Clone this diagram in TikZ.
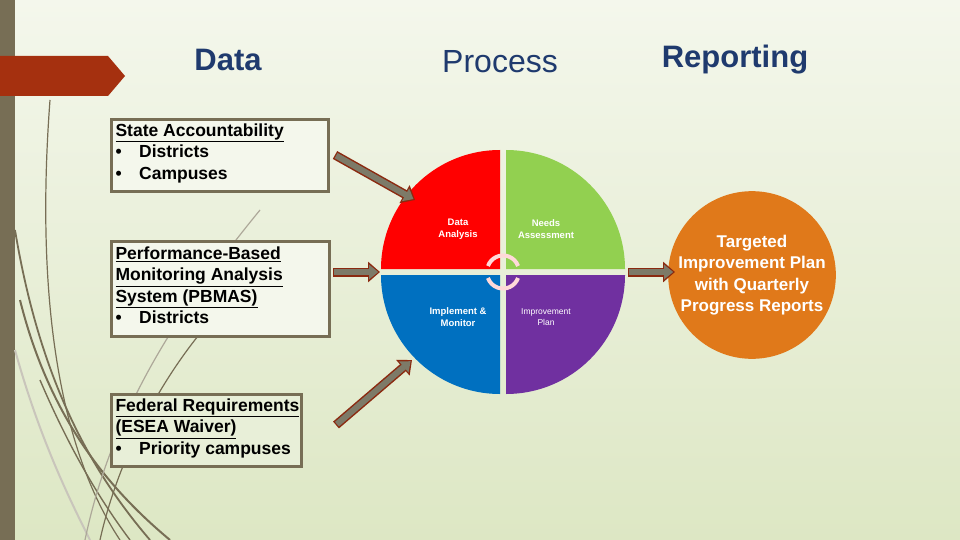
\documentclass[tikz,border=0pt]{standalone}
\usepackage{fontspec}
\setmainfont{Liberation Sans}
\usetikzlibrary{arrows.meta}
\definecolor{bar}{HTML}{776E55}
\definecolor{ttl}{HTML}{1F3A6E}
\definecolor{arrfill}{HTML}{7D7A68}
\definecolor{arredge}{HTML}{8B2A10}
\definecolor{qred}{HTML}{FF0000}
\definecolor{qgreen}{HTML}{92D050}
\definecolor{qblue}{HTML}{0070C0}
\definecolor{qpurple}{HTML}{7030A0}
\definecolor{qorange}{HTML}{E0791A}
\definecolor{band}{HTML}{A5300F}
\definecolor{bgtop}{HTML}{F4F7EC}
\definecolor{bgbot}{HTML}{DDE7C4}
\begin{document}
\begin{tikzpicture}[x=1pt,y=-1pt,
  box/.style={draw=bar,line width=3pt,anchor=north west,inner sep=0pt},
  ttl/.style={text=ttl,font=\bfseries\fontsize{31}{36}\selectfont},
  btext/.style={font=\bfseries\fontsize{17.5}{21.5}\selectfont,align=left,anchor=north west},
  ptext/.style={text=white,font=\bfseries\fontsize{9.5}{11.5}\selectfont,align=center},
  fat/.style={-{Triangle[length=12pt,width=20pt]},line width=9pt,draw=arredge,
    postaction={draw=arrfill,line width=6pt,-{Triangle[length=9pt,width=14pt]},shorten >=1.8pt,shorten <=1.3pt}}]
\useasboundingbox (0,0) rectangle (960,540);
\shade[top color=bgtop, bottom color=bgbot] (0,0) rectangle (960,540);
\fill[bar] (0,0) rectangle (15,540);
% decorative curves
\draw[bar,line width=1.2pt] (50,100) .. controls (35,300) and (60,450) .. (120,540);
\draw[bar,line width=1.8pt] (15,230) .. controls (40,380) and (90,470) .. (150,540);
\draw[bar,line width=2pt] (20,300) .. controls (50,420) and (110,490) .. (170,540);
\draw[bar,line width=1.4pt] (40,380) .. controls (70,450) and (100,500) .. (130,540);
\draw[bar!40,line width=2pt] (15,350) .. controls (40,440) and (70,500) .. (90,540);
\draw[bar!60,line width=1.2pt] (85,540) .. controls (110,420) and (170,320) .. (260,210);
\draw[bar,line width=1.2pt] (100,540) .. controls (120,450) and (170,360) .. (230,300);
% red band
\fill[band] (0,56) -- (108,56) -- (125,76) -- (108,96) -- (0,96) -- cycle;
% titles
\node[ttl] (t1) at (228,60) {Data};
\node[ttl,font=\fontsize{32}{36}\selectfont] (t2) at (500,62) {Process};
\node[ttl] (t3) at (735,60) {Reporting};
% boxes
\node[box,fill=bgtop,minimum width=217pt,minimum height=72pt] (b1) at (110,118) {};
\node[btext] at (112,120) {\underline{State Accountability}\\•\quad Districts\\•\quad Campuses};
\node[box,fill=bgtop,minimum width=218pt,minimum height=95pt] (b2) at (110,240) {};
\node[btext] at (112,243) {\underline{Performance-Based}\\\underline{Monitoring Analysis}\\\underline{System (PBMAS)}\\•\quad Districts};
\node[box,fill=bgbot!50!bgtop,minimum width=190pt,minimum height=72pt] (b3) at (110,393) {};
\node[btext] at (112,395) {\underline{Federal Requirements}\\\underline{(ESEA Waiver)}\\•\quad Priority campuses};
% pie
\coordinate (c) at (503,272);
\def\r{119}
\fill[qred]   ([shift={(-3,-3)}]c) -- ++(-\r,0) arc[start angle=180,end angle=270,radius=\r] -- cycle;
\fill[qgreen] ([shift={(3,-3)}]c) -- ++(0,-\r) arc[start angle=270,end angle=360,radius=\r] -- cycle;
\fill[qblue] ([shift={(-3,3)}]c) -- ++(-\r,0) arc[start angle=180,end angle=90,radius=\r] -- cycle;
\fill[qpurple] ([shift={(3,3)}]c) -- ++(\r,0) arc[start angle=0,end angle=90,radius=\r] -- cycle;
\node[ptext] (q1) at (458,229) {Data\\Analysis};
\node[ptext] (q2) at (546,229) {Needs\\Assessment};
\node[ptext] (q3) at (458,317) {Implement \&\\Monitor};
\node[ptext,font=\fontsize{8.5}{10.5}\selectfont] (q4) at (546,317) {Improvement\\Plan};
\draw[red!15!white,line width=4pt] ([shift={(-15,-6)}]c) arc[start angle=200,end angle=340,radius=16];
\draw[red!15!white,line width=4pt] ([shift={(15,6)}]c) arc[start angle=20,end angle=160,radius=16];
% orange circle
\node[circle,fill=qorange,minimum size=160pt,inner sep=0pt,text=white,
  font=\bfseries\fontsize{17}{21.5}\selectfont,align=center] (o) at (752,275)
  {Targeted\\Improvement Plan\\with Quarterly\\Progress Reports};
% arrows
\coordinate (a1s) at (335,155); \coordinate (a1e) at (415,200);
\coordinate (a2s) at (333,272); \coordinate (a2e) at (380,272);
\coordinate (a3s) at (336,425); \coordinate (a3e) at (412,360);
\coordinate (a4s) at (628,272); \coordinate (a4e) at (675,272);
\draw[fat] (a1s) -- (a1e);
\draw[fat] (a2s) -- (a2e);
\draw[fat] (a3s) -- (a3e);
\draw[fat] (a4s) -- (a4e);
\end{tikzpicture}
\end{document}
